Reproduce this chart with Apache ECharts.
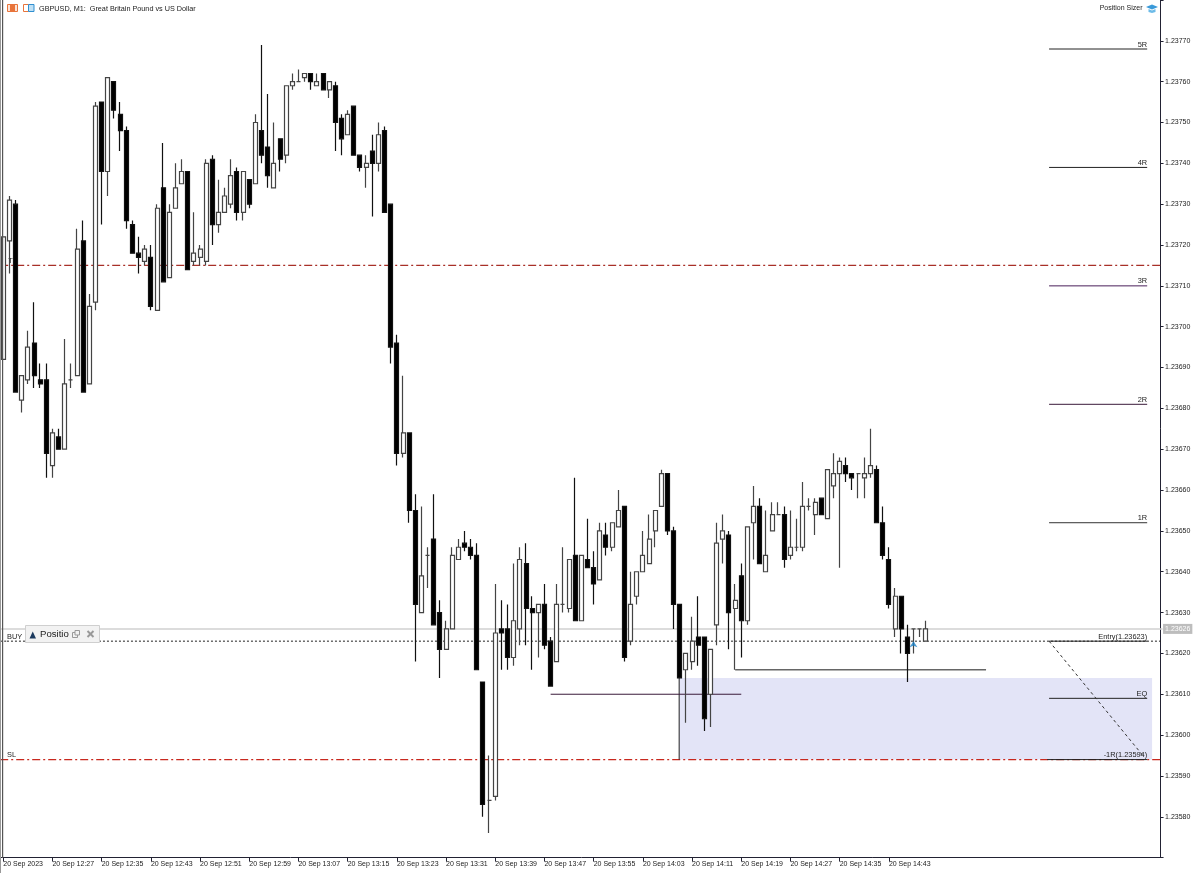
<!DOCTYPE html>
<html>
<head>
<meta charset="utf-8">
<style>html,body{margin:0;padding:0;background:#fff}#c{width:1200px;height:873px}</style>
<script src="https://cdn.jsdelivr.net/npm/echarts@6/dist/echarts.min.js"></script>
</head>
<body>
<div id="c"></div>
<script>
const opens=[1.23692,1.23721,1.23730,1.23682,1.23687,1.23696,1.23687,1.23687,1.23666,1.23673,1.23670,1.23687,1.23688,1.23721,1.23686,1.23706,1.23755,1.23738,1.23760,1.23752,1.23748,1.23725,1.23718,1.23716,1.23717,1.23704,1.23734,1.23712,1.23729,1.23735,1.23738,1.23716,1.23717,1.23716,1.23741,1.23725,1.23728,1.23730,1.23738,1.23728,1.23736,1.23735,1.23748,1.23744,1.23734,1.23746,1.23742,1.23759,1.23760,1.23761,1.23762,1.23759,1.23762,1.23758,1.23759,1.23751,1.23747,1.23754,1.23742,1.23739,1.23743,1.23740,1.23748,1.23730,1.23696,1.23669,1.23674,1.23655,1.23630,1.23644,1.23648,1.23630,1.23621,1.23626,1.23643,1.23647,1.23646,1.23644,1.23613,1.23584,1.23585,1.23626,1.23626,1.23619,1.23626,1.23642,1.23631,1.23630,1.23632,1.23623,1.23618,1.23632,1.23631,1.23644,1.23628,1.23643,1.23641,1.23638,1.23649,1.23646,1.23651,1.23656,1.23623,1.23634,1.23640,1.23642,1.23650,1.23656,1.23664,1.23650,1.23632,1.23616,1.23618,1.23624,1.23624,1.23610,1.23627,1.23648,1.23649,1.23631,1.23639,1.23628,1.23652,1.23656,1.23640,1.23650,1.23654,1.23654,1.23644,1.23646,1.23646,1.23656,1.23654,1.23658,1.23653,1.23661,1.23664,1.23666,1.23664,1.23664,1.23663,1.23664,1.23665,1.23652,1.23643,1.23626,1.23634,1.23624,1.23626,1.23626,1.23623];
const closes=[1.23722,1.23731,1.23684,1.23688,1.23695,1.23688,1.23686,1.23669,1.23674,1.23670,1.23686,1.23687,1.23719,1.23684,1.23705,1.23754,1.23738,1.23761,1.23753,1.23748,1.23726,1.23718,1.23717,1.23719,1.23705,1.23729,1.23711,1.23728,1.23734,1.23738,1.23714,1.23718,1.23719,1.23740,1.23725,1.23728,1.23732,1.23737,1.23728,1.23738,1.23730,1.23750,1.23742,1.23737,1.23740,1.23741,1.23759,1.23760,1.23760,1.23762,1.23760,1.23760,1.23758,1.23760,1.23750,1.23746,1.23752,1.23742,1.23739,1.23740,1.23740,1.23747,1.23728,1.23695,1.23669,1.23674,1.23655,1.23632,1.23639,1.23644,1.23627,1.23621,1.23626,1.23644,1.23646,1.23646,1.23644,1.23616,1.23583,1.23584,1.23625,1.23625,1.23619,1.23628,1.23643,1.23631,1.23630,1.23632,1.23622,1.23612,1.23632,1.23632,1.23643,1.23628,1.23644,1.23641,1.23637,1.23650,1.23646,1.23652,1.23655,1.23619,1.23632,1.23640,1.23644,1.23648,1.23655,1.23664,1.23650,1.23632,1.23614,1.23620,1.23623,1.23622,1.23604,1.23621,1.23647,1.23650,1.23630,1.23633,1.23628,1.23651,1.23656,1.23642,1.23644,1.23654,1.23654,1.23643,1.23646,1.23646,1.23656,1.23656,1.23657,1.23654,1.23665,1.23664,1.23667,1.23664,1.23663,1.23664,1.23664,1.23666,1.23652,1.23644,1.23632,1.23634,1.23626,1.23620,1.23626,1.23626,1.23626];
const highs=[1.23722,1.23732,1.23731,1.23688,1.23699,1.23706,1.23691,1.23691,1.23675,1.23675,1.23697,1.23691,1.23724,1.23726,1.23708,1.23755,1.23755,1.23761,1.23760,1.23755,1.23749,1.23726,1.23722,1.23720,1.23720,1.23730,1.23745,1.23730,1.23740,1.23741,1.23738,1.23728,1.23720,1.23741,1.23742,1.23736,1.23734,1.23741,1.23739,1.23738,1.23736,1.23752,1.23769,1.23757,1.23750,1.23746,1.23759,1.23762,1.23763,1.23762,1.23762,1.23762,1.23762,1.23760,1.23760,1.23752,1.23753,1.23754,1.23742,1.23742,1.23747,1.23750,1.23749,1.23730,1.23698,1.23688,1.23674,1.23659,1.23656,1.23646,1.23659,1.23633,1.23628,1.23646,1.23648,1.23650,1.23648,1.23647,1.23613,1.23595,1.23637,1.23633,1.23632,1.23642,1.23646,1.23647,1.23634,1.23632,1.23637,1.23624,1.23637,1.23646,1.23643,1.23663,1.23644,1.23653,1.23645,1.23652,1.23652,1.23652,1.23660,1.23656,1.23640,1.23640,1.23650,1.23654,1.23655,1.23665,1.23664,1.23651,1.23632,1.23620,1.23629,1.23634,1.23624,1.23621,1.23652,1.23654,1.23650,1.23637,1.23642,1.23651,1.23661,1.23658,1.23655,1.23657,1.23657,1.23656,1.23655,1.23653,1.23662,1.23658,1.23658,1.23658,1.23665,1.23669,1.23668,1.23668,1.23664,1.23664,1.23668,1.23675,1.23666,1.23656,1.23646,1.23636,1.23634,1.23627,1.23626,1.23626,1.23628];
const lows=[1.23692,1.23713,1.23684,1.23679,1.23686,1.23685,1.23685,1.23663,1.23663,1.23670,1.23670,1.23685,1.23688,1.23684,1.23686,1.23704,1.23725,1.23732,1.23751,1.23743,1.23724,1.23718,1.23713,1.23715,1.23704,1.23704,1.23711,1.23712,1.23729,1.23735,1.23714,1.23715,1.23715,1.23715,1.23720,1.23723,1.23728,1.23729,1.23726,1.23726,1.23729,1.23735,1.23740,1.23734,1.23734,1.23738,1.23740,1.23758,1.23760,1.23760,1.23758,1.23759,1.23758,1.23756,1.23743,1.23742,1.23747,1.23742,1.23738,1.23734,1.23727,1.23738,1.23728,1.23691,1.23666,1.23668,1.23652,1.23618,1.23630,1.23636,1.23627,1.23614,1.23621,1.23626,1.23643,1.23645,1.23643,1.23616,1.23580,1.23576,1.23584,1.23616,1.23616,1.23617,1.23622,1.23622,1.23616,1.23619,1.23621,1.23612,1.23618,1.23630,1.23630,1.23628,1.23628,1.23641,1.23632,1.23638,1.23644,1.23645,1.23651,1.23618,1.23622,1.23632,1.23640,1.23642,1.23646,1.23656,1.23649,1.23626,1.23614,1.23603,1.23616,1.23617,1.23601,1.23602,1.23622,1.23642,1.23621,1.23616,1.23619,1.23627,1.23643,1.23642,1.23640,1.23650,1.23654,1.23641,1.23643,1.23645,1.23645,1.23655,1.23649,1.23654,1.23653,1.23658,1.23641,1.23662,1.23660,1.23658,1.23658,1.23663,1.23652,1.23643,1.23631,1.23624,1.23620,1.23613,1.23620,1.23624,1.23623];
const tickLabels=['20 Sep 2023','20 Sep 12:27','20 Sep 12:35','20 Sep 12:43','20 Sep 12:51','20 Sep 12:59','20 Sep 13:07','20 Sep 13:15','20 Sep 13:23','20 Sep 13:31','20 Sep 13:39','20 Sep 13:47','20 Sep 13:55','20 Sep 14:03','20 Sep 14:11','20 Sep 14:19','20 Sep 14:27','20 Sep 14:35','20 Sep 14:43'];
const barSlots=189, labelEvery=8;
const bidPrice=1.23626, entryPrice=1.23623, slPrice=1.23594, tpPrice=1.23715, eqPrice=1.23609;
const rLevels=[['1R',1.23652,'#333'],['2R',1.23681,'#3a1a3a'],['3R',1.23710,'#4a1f5a'],['4R',1.23739,'#222'],['5R',1.23768,'#222']];
const panelFrom=170.05, panelTo=186;
const boxRange=[109.9,186.8,1.23614,1.23594];
const swingA=[89,120,1.23610], swingB=[119,159.8,1.23616];
const markerArrow=[148,1.23623];
const diagonal=[[170.05,1.23623],[185.3,1.23595]];

const FONT='"Liberation Sans"';
const categories=Array.from({length:barSlots},(_,i)=>i%labelEvery===0?(tickLabels[i/labelEvery]||''):'');
const keep=(i,v)=>v!=='';

function lab(text,extra){return Object.assign({show:true,formatter:text,fontFamily:FONT,fontSize:7.4,color:'#222',position:'top',distance:1},extra||{});}
function seg(name,pts,ls,z,labels){
  return {type:'line',name,xAxisIndex:1,yAxisIndex:0,z:z||2,symbol:'circle',symbolSize:0,silent:true,clip:false,
    itemStyle:{color:'transparent'},lineStyle:ls,
    data:pts.map((p,i)=>{const o={value:p};if(labels&&labels[i])o.label=labels[i];else o.label={show:false};return o;})};
}
const L=-0.5,R=barSlots-0.5;
const DD=[8,3,2,3];
const series=[];
series.push({type:'line',name:'box',xAxisIndex:1,yAxisIndex:0,z:1,symbol:'none',data:[],silent:true,
  markArea:{silent:true,itemStyle:{color:'#e3e4f7'},data:[[{xAxis:boxRange[0],yAxis:boxRange[2]},{xAxis:boxRange[1],yAxis:boxRange[3]}]]}});
series.push(seg('bid',[[L,bidPrice],[R,bidPrice]],{color:'#d0d0d0',width:1.5},2,[null,lab('1.23626',{fontSize:7,position:'right',distance:0.5,backgroundColor:'#bdbdbd',color:'#fff',padding:[2,2,1,2]})]));
series.push(seg('entry',[[0.6,entryPrice],[R,entryPrice]],{color:'#222',width:1,type:[2,2]},2,[lab('BUY',{align:'left'}),null]));
series.push(seg('entryFromLeft',[[L,entryPrice],[0.6,entryPrice]],{color:'#222',width:1,type:[2,2]},2));
series.push(seg('tp',[[L,tpPrice],[R,tpPrice]],{color:'#a83028',width:1.2,type:DD},2));
series.push(seg('tpLabel',[[0.8,tpPrice],[1,tpPrice]],{width:0},2,[lab('TP',{align:'left'}),null]));
series.push(seg('sl',[[L,slPrice],[R,slPrice]],{color:'#c8281e',width:1.2,type:DD},2));
series.push(seg('slLabel',[[0.6,slPrice],[1,slPrice]],{width:0},2,[lab('SL',{align:'left'}),null]));
series.push(seg('boxEdge',[[boxRange[0],boxRange[2]],[boxRange[0],boxRange[3]]],{color:'#222',width:1},2));
series.push(seg('swingA',[[swingA[0],swingA[2]],[swingA[1],swingA[2]]],{color:'#3a1a3a',width:1},2));
series.push(seg('swingB',[[swingB[0],swingB[2]],[swingB[1],swingB[2]]],{color:'#666',width:1.5},2));
series.push({type:'candlestick',name:'GBPUSD',xAxisIndex:0,yAxisIndex:0,z:3,barWidth:4.5,silent:true,
  itemStyle:{color:'#fff',color0:'#000',borderColor:'#444',borderColor0:'#111',borderColorDoji:'#444',borderWidth:1.2},
  data:opens.map((o,i)=>[o,closes[i],lows[i],highs[i]])});
rLevels.forEach(r=>series.push(seg(r[0],[[panelFrom,r[1]],[panelTo,r[1]]],{color:r[2],width:1},4,[null,lab(r[0],{align:'right'})])));
series.push(seg('entryR',[[panelFrom,entryPrice],[panelTo,entryPrice]],{color:'#222',width:1},4,[null,lab('Entry(1.23623)',{align:'right'})]));
series.push(seg('eq',[[panelFrom,eqPrice],[panelTo,eqPrice]],{color:'#222',width:1},4,[null,lab('EQ',{align:'right'})]));
series.push(seg('minus1R',[[panelFrom-0.3,slPrice],[panelTo,slPrice]],{color:'#222',width:1},4,[null,lab('-1R(1.23594)',{align:'right'})]));
series.push(seg('diag',diagonal,{color:'#333',width:1,type:[3,3]},4));
series.push({type:'scatter',name:'arrow',xAxisIndex:1,yAxisIndex:0,z:5,symbol:'arrow',symbolSize:[6,6],itemStyle:{color:'#1a7fc4'},silent:true,data:[markerArrow]});

const chart=echarts.init(document.getElementById('c'),null,{renderer:'canvas'});
chart.setOption({
  animation:false,backgroundColor:'#fff',
  grid:{left:0.2,top:-0.88,width:1162.35,height:858.48,containLabel:false},
  xAxis:[{type:'category',data:categories,position:'bottom',boundaryGap:true,
      axisLine:{lineStyle:{color:'#223',width:1}},
      axisTick:{show:true,alignWithLabel:true,length:4,interval:keep,lineStyle:{color:'#223'}},
      axisLabel:{interval:keep,align:'left',margin:3,fontFamily:FONT,fontSize:7,color:'#222',hideOverlap:false},
      splitLine:{show:false}},
    {type:'value',min:L,max:R,show:false,splitLine:{show:false}}],
  yAxis:[{type:'value',position:'right',offset:-2,min:1.2357,max:1.2378,interval:0.0001,scale:true,
    axisLine:{show:true,onZero:false,lineStyle:{color:'#223',width:1}},
    axisTick:{show:true,length:3,lineStyle:{color:'#223'}},
    axisLabel:{margin:4.5,fontFamily:FONT,fontSize:7,color:'#222',
      formatter:v=>(v<1.23575||v>1.23775)?'':v.toFixed(5)},
    splitLine:{show:false}}],
  series,
  graphic:[
    {type:'rect',shape:{x:0,y:0,width:1,height:873},style:{fill:'#999'},z:50},
    {type:'rect',shape:{x:2,y:0,width:1.2,height:858},style:{fill:'#555'},z:50},
    {type:'rect',shape:{x:7.5,y:4.5,width:10,height:7},style:{fill:'#fbe3d6',stroke:'#e8743b',lineWidth:1},z:50},
    {type:'rect',shape:{x:10,y:5,width:5,height:6},style:{fill:'#e8743b'},z:50},
    {type:'rect',shape:{x:23.5,y:4.5,width:5,height:7},style:{fill:'#fff',stroke:'#e8743b',lineWidth:1},z:50},
    {type:'rect',shape:{x:28.5,y:4.5,width:5.5,height:7},style:{fill:'#bfe0f5',stroke:'#2f8fd0',lineWidth:1},z:50},
    {type:'text',x:39,y:8.5,style:{text:'GBPUSD, M1:  Great Britain Pound vs US Dollar',font:'7.25px '+FONT,fill:'#222',textVerticalAlign:'middle'},z:50},
    {type:'text',x:1142.5,y:8.5,style:{text:'Position Sizer',font:'7px '+FONT,fill:'#222',textAlign:'right',textVerticalAlign:'middle'},z:50},
    {type:'polygon',shape:{points:[[1146,7],[1152,4.5],[1158,7],[1152,9.5]]},style:{fill:'#3a9ad9'},z:50},
    {type:'polygon',shape:{points:[[1148.5,9],[1152,10.5],[1155.5,9],[1155.5,12],[1152,13],[1148.5,12]]},style:{fill:'#6dbbe8'},z:50},
    {type:'rect',shape:{x:25.5,y:625.5,width:74,height:17},style:{fill:'#f2f2f2',stroke:'#cfcfcf',lineWidth:1},z:50},
    {type:'polygon',shape:{points:[[29.5,638.5],[36,638.5],[32.75,631.5]]},style:{fill:'#1c3a5e'},z:51},
    {type:'text',x:40,y:634,style:{text:'Positio',font:'9.6px '+FONT,fill:'#222',textVerticalAlign:'middle'},z:51},
    {type:'rect',shape:{x:72.5,y:632.5,width:5,height:5},style:{fill:'none',stroke:'#999',lineWidth:1},z:51},
    {type:'rect',shape:{x:75,y:630.5,width:4.5,height:4.5},style:{fill:'#f2f2f2',stroke:'#999',lineWidth:1},z:52},
    {type:'line',shape:{x1:87.5,y1:631,x2:93.5,y2:637},style:{stroke:'#999',lineWidth:2},z:51},
    {type:'line',shape:{x1:93.5,y1:631,x2:87.5,y2:637},style:{stroke:'#999',lineWidth:2},z:51}
  ]
});
</script>
</body>
</html>
